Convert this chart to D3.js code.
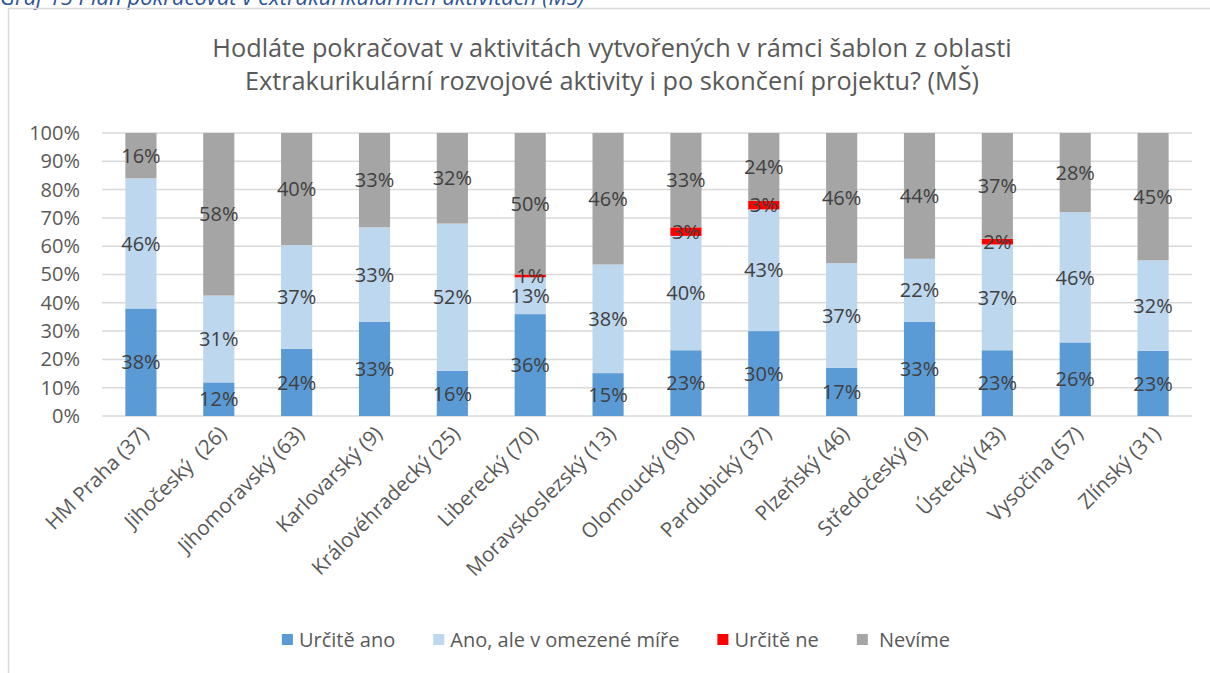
<!DOCTYPE html>
<html lang="cs">
<head>
<meta charset="UTF-8">
<script src="https://d3js.org/d3.v7.min.js"></script>
<style>
    body { margin: 0; background: #fff; }
    svg { display: block; font-family: "Open Sans", Lato, sans-serif; }
</style>
</head>
<body>
<svg id="chart" width="1210" height="673"></svg>
<script>
    // data (percent per region)
    var regions = ["HM Praha (37)", "Jihočeský  (26)", "Jihomoravský (63)", "Karlovarský (9)",
        "Královéhradecký (25)", "Liberecký (70)", "Moravskoslezský (13)", "Olomoucký (90)",
        "Pardubický (37)", "Plzeňský (46)", "Středočeský (9)", "Ústecký (43)",
        "Vysočina (57)", "Zlínský (31)"];
    var urciteAno  = [38, 12, 24, 33, 16, 36, 15, 23, 30, 17, 33, 23, 26, 23];
    var anoOmezene = [46, 31, 37, 33, 52, 13, 38, 40, 43, 37, 22, 37, 46, 32];
    var urciteNe   = [0, 0, 0, 0, 0, 1, 0, 3, 3, 0, 0, 2, 0, 0];
    var nevime     = [16, 58, 40, 33, 32, 50, 46, 33, 24, 46, 44, 37, 28, 45];
    var seriesNames = ["Určitě ano", "Ano, ale v omezené míře", "Určitě ne", " Nevíme"];
    var yTicks = [0, 0.1, 0.2, 0.3, 0.4, 0.5, 0.6, 0.7, 0.8, 0.9, 1];

    var colors = ["#5B9BD5", "#BDD7EE", "#FF0000", "#A5A5A5"];
    var keys = ["a", "b", "c", "d"];

    var rows = regions.map(function (r, i) {
        return { region: r, a: urciteAno[i], b: anoOmezene[i], c: urciteNe[i], d: nevime[i] };
    });

    var svg = d3.select("#chart");

    // caption of the figure (mostly cut off at the top)
    svg.append("text")
        .attr("x", 0).attr("y", 5)
        .attr("font-size", 22).attr("font-style", "italic")
        .attr("fill", "#2F5496")
        .text("Graf 15 Plán pokračovat v extrakurikulárních aktivitách (MŠ)");

    // chart frame
    svg.append("rect")
        .attr("x", 8.5).attr("y", 8.5)
        .attr("width", 1220).attr("height", 680)
        .attr("fill", "none").attr("stroke", "#d9d9d9").attr("stroke-width", 1.5);

    // title
    var title = svg.append("text")
        .attr("text-anchor", "middle")
        .attr("font-size", 25.3)
        .attr("fill", "#595959");
    title.append("tspan").attr("x", 612).attr("y", 57)
        .text("Hodláte pokračovat v aktivitách vytvořených v rámci šablon z oblasti");
    title.append("tspan").attr("x", 612).attr("y", 90)
        .text("Extrakurikulární rozvojové aktivity i po skončení projektu? (MŠ)");

    var margin = { left: 102, right: 1192, top: 133, bottom: 416 };

    var x = d3.scaleBand()
        .domain(regions)
        .range([margin.left, margin.right])
        .paddingInner(0.6)
        .paddingOuter(0.3);

    var y = d3.scaleLinear()
        .domain([0, 1])
        .range([margin.bottom, margin.top]);

    // gridlines
    svg.append("g")
        .selectAll("line")
        .data(yTicks)
        .enter().append("line")
        .attr("x1", margin.left).attr("x2", margin.right)
        .attr("y1", function (d) { return y(d); })
        .attr("y2", function (d) { return y(d); })
        .attr("stroke", "#d9d9d9").attr("stroke-width", 1.5);

    // y axis labels
    var yAxis = svg.append("g")
        .attr("transform", "translate(" + (margin.left - 22) + ",0)")
        .call(d3.axisLeft(y).tickValues(yTicks).tickFormat(d3.format(".0%")).tickSize(0).tickPadding(0));
    yAxis.select(".domain").remove();
    yAxis.selectAll("text")
        .attr("font-family", "'Open Sans', sans-serif")
        .attr("font-size", 20)
        .attr("fill", "#595959");

    // stacked 100% bars
    var stack = d3.stack().keys(keys).offset(d3.stackOffsetExpand);
    var layers = stack(rows);

    var layerG = svg.append("g")
        .selectAll("g")
        .data(layers)
        .enter().append("g")
        .attr("fill", function (d, i) { return colors[i]; });

    layerG.selectAll("rect")
        .data(function (d) { return d; })
        .enter().append("rect")
        .attr("x", function (d) { return x(d.data.region); })
        .attr("width", x.bandwidth())
        .attr("y", function (d) { return y(d[1]); })
        .attr("height", function (d) { return y(d[0]) - y(d[1]); });

    // data labels
    layers.forEach(function (layer) {
        svg.append("g")
            .selectAll("text")
            .data(layer.filter(function (d) { return d.data[layer.key] > 0; }))
            .enter().append("text")
            .attr("x", function (d) { return x(d.data.region) + x.bandwidth() / 2; })
            .attr("y", function (d) { return y((d[0] + d[1]) / 2); })
            .attr("dy", "0.36em")
            .attr("text-anchor", "middle")
            .attr("font-size", 20)
            .attr("fill", "#404040")
            .text(function (d) { return d.data[layer.key] + "%"; });
    });

    // x axis labels, rotated
    svg.append("g")
        .selectAll("text")
        .data(regions)
        .enter().append("text")
        .attr("transform", function (d) {
            return "translate(" + (x(d) + x.bandwidth() / 2 + 9) + "," + (margin.bottom + 19) + ") rotate(-45)";
        })
        .attr("text-anchor", "end")
        .attr("font-size", 20.5)
        .attr("fill", "#595959")
        .attr("xml:space", "preserve")
        .text(function (d) { return d; });

    // legend, laid out from measured text widths and centred
    var legend = svg.append("g");
    var items = legend.selectAll("g")
        .data(seriesNames)
        .enter().append("g");
    items.append("rect")
        .attr("x", 0).attr("y", -6)
        .attr("width", 11).attr("height", 11)
        .attr("fill", function (d, i) { return colors[i]; });
    items.append("text")
        .attr("x", 17)
        .attr("y", 0)
        .attr("dy", "0.36em")
        .attr("font-size", 20)
        .attr("fill", "#595959")
        .attr("xml:space", "preserve")
        .text(function (d) { return d; });

    var gap = 38;
    var pos = 0;
    var offsets = [];
    items.each(function () {
        offsets.push(pos);
        pos += 17 + d3.select(this).select("text").node().getComputedTextLength() + gap;
    });
    var total = pos - gap;
    var startX = 616 - total / 2;
    items.attr("transform", function (d, i) { return "translate(" + (startX + offsets[i]) + ",640)"; });
</script>
</body>
</html>
